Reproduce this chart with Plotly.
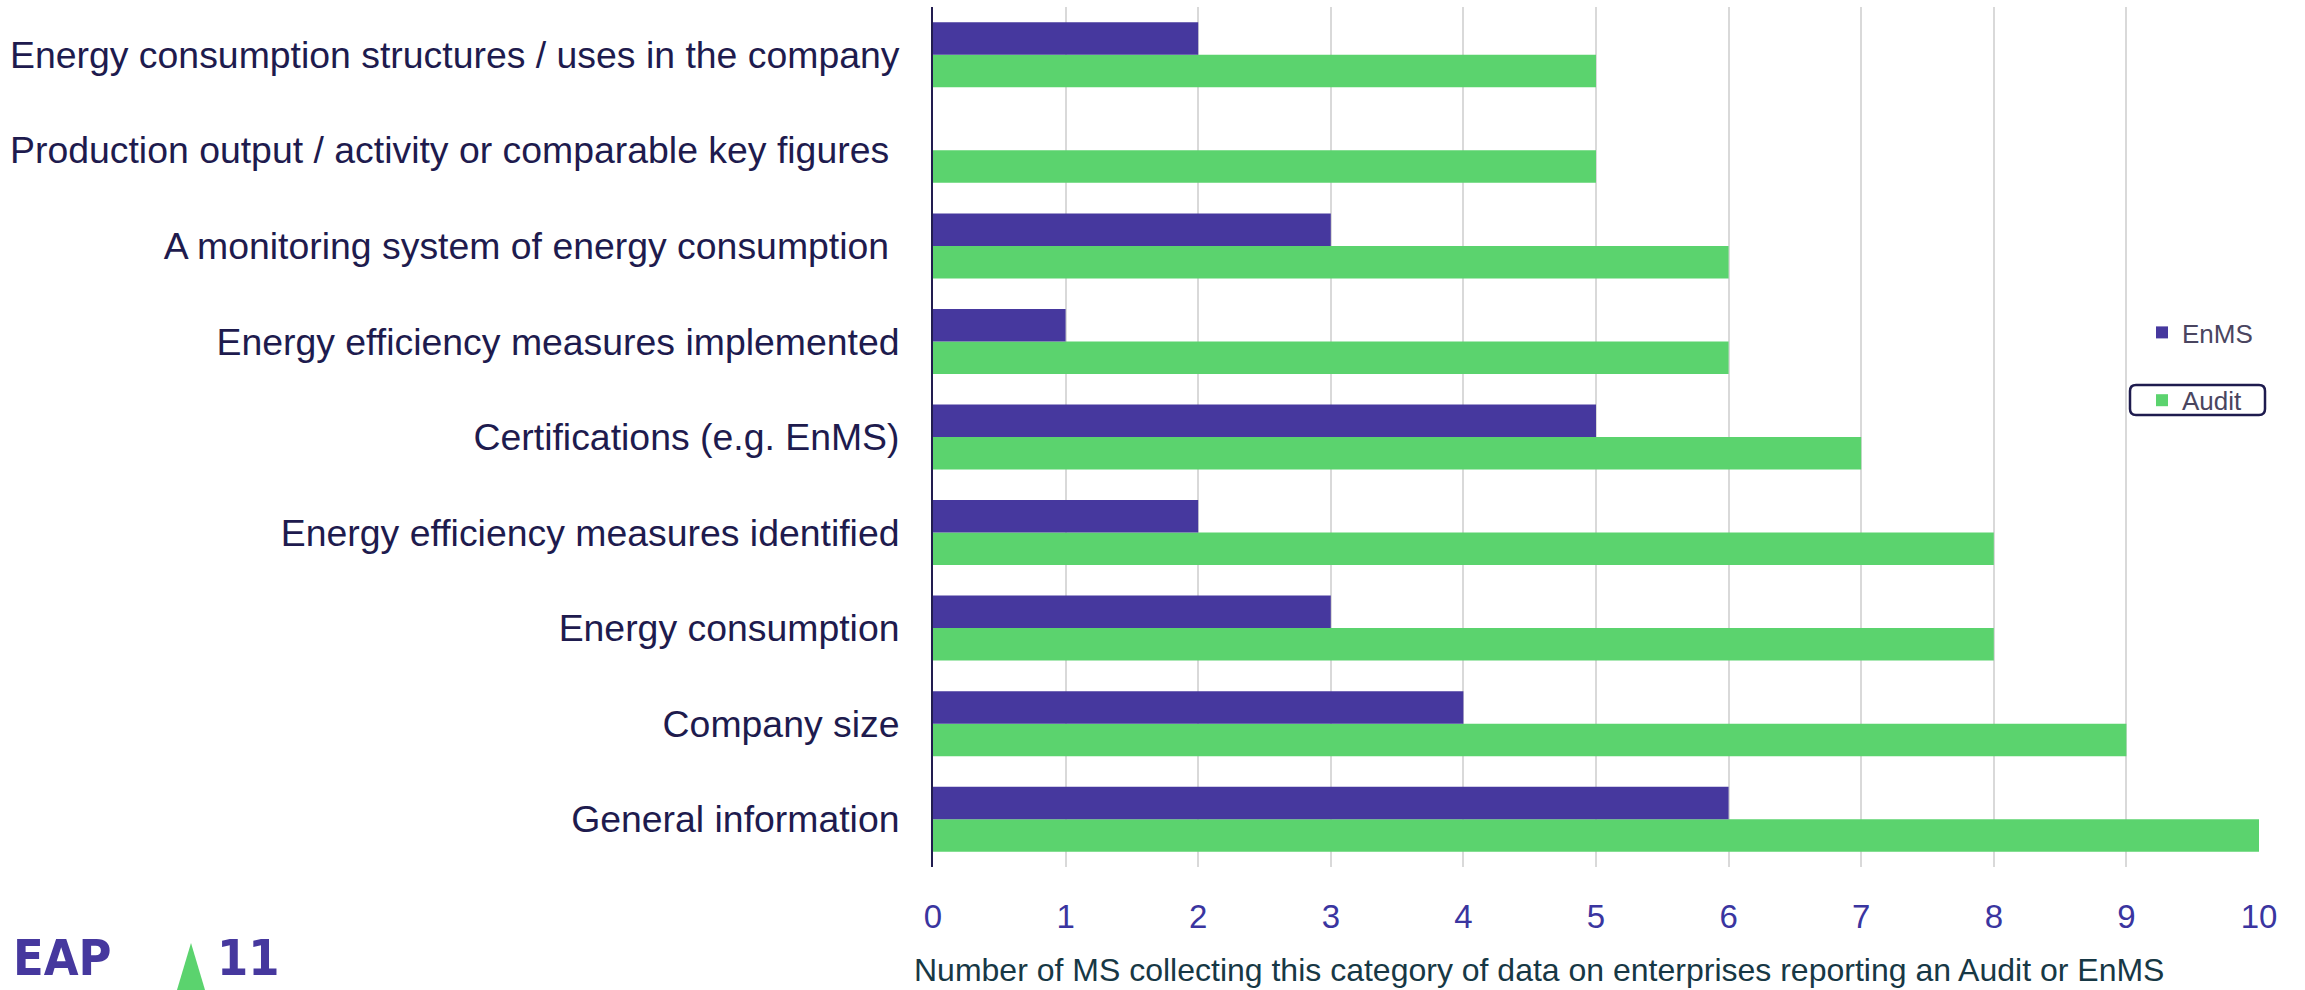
import plotly.graph_objects as go

categories = [
    "General information",
    "Company size",
    "Energy consumption",
    "Energy efficiency measures identified",
    "Certifications (e.g. EnMS)",
    "Energy efficiency measures implemented",
    "A monitoring system of energy consumption\u00a0",
    "Production output / activity or comparable key figures\u00a0",
    "Energy consumption structures / uses in the company",
]
enms = [6, 4, 3, 2, 5, 1, 3, 0, 2]
audit = [10, 9, 8, 8, 7, 6, 6, 5, 5]
x_ticks = [0, 1, 2, 3, 4, 5, 6, 7, 8, 9, 10]

W, H = 2305, 990
L, R, T, B = 933, 46, 7, 123
PW, PH = W - L - R, H - T - B

def px(x):
    return (x - L) / PW

def py(y):
    return (H - B - y) / PH

FONT = "Liberation Sans, Arial, sans-serif"
LOGO_FONT = "Liberation Sans Narrow, DejaVu Sans Condensed, sans-serif"

fig = go.Figure()
fig.add_trace(go.Bar(y=categories, x=audit, name="Audit", orientation="h",
                     marker=dict(color="#5BD36E", line=dict(width=0)),
                     legendgroup="a", legendrank=2))
fig.add_trace(go.Bar(y=categories, x=enms, name="EnMS", orientation="h",
                     marker=dict(color="#46389E", line=dict(width=0)),
                     legendgroup="b", legendrank=1))

fig.update_layout(
    width=W, height=H,
    margin=dict(l=L, r=R, t=T, b=B, autoexpand=False),
    paper_bgcolor="white", plot_bgcolor="white",
    barmode="group", bargap=0.32, bargroupgap=0,
    font=dict(family=FONT),
    showlegend=True,
    legend=dict(x=px(2142), y=py(309), xanchor="left", yanchor="top",
                traceorder="grouped", tracegroupgap=31,
                font=dict(size=26, color="#4A4560", family=FONT),
                bgcolor="rgba(0,0,0,0)", itemwidth=30),
    xaxis=dict(range=[0, 10], tickvals=x_ticks, showgrid=True,
               gridcolor="#D9D9D9", gridwidth=2, zeroline=False,
               showline=False, ticks="",
               tickfont=dict(size=33, color="#3A35A0", family=FONT),
               ticklabelstandoff=27),
    yaxis=dict(showline=True, linecolor="#221D50", linewidth=2,
               ticks="", showgrid=False,
               tickfont=dict(size=37.4, color="#1E1B4E", family=FONT),
               ticklabelstandoff=24),
)

fig.add_annotation(text="Number of MS collecting this category of data on enterprises reporting an Audit or EnMS",
                   xref="paper", yref="paper", x=px(1539), y=py(970),
                   xanchor="center", yanchor="middle", showarrow=False,
                   font=dict(size=32, color="#173845", family=FONT))

# Box around "Audit" legend item
r = 6
x0, x1, y0, y1 = 2130, 2265, 385, 415
path = (f"M {px(x0 + r)},{py(y0)} L {px(x1 - r)},{py(y0)} "
        f"Q {px(x1)},{py(y0)} {px(x1)},{py(y0 + r)} L {px(x1)},{py(y1 - r)} "
        f"Q {px(x1)},{py(y1)} {px(x1 - r)},{py(y1)} L {px(x0 + r)},{py(y1)} "
        f"Q {px(x0)},{py(y1)} {px(x0)},{py(y1 - r)} L {px(x0)},{py(y0 + r)} "
        f"Q {px(x0)},{py(y0)} {px(x0 + r)},{py(y0)} Z")
fig.add_shape(type="path", path=path, xref="paper", yref="paper",
              line=dict(color="#1E1B4E", width=2.5), fillcolor="rgba(0,0,0,0)")

# Logo
fig.add_annotation(text="<b>EAP</b>", xref="paper", yref="paper",
                   x=px(12), y=py(988), xanchor="left", yanchor="bottom",
                   showarrow=False, borderpad=0,
                   font=dict(size=50, color="#46389E", family=LOGO_FONT))
fig.add_shape(type="path", xref="paper", yref="paper",
              path=f"M {px(191)},{py(943)} L {px(208)},{py(1000)} L {px(174)},{py(1000)} Z",
              line=dict(width=0), fillcolor="#5BD36E")
fig.add_annotation(text="<b>11</b>", xref="paper", yref="paper",
                   x=px(216), y=py(988), xanchor="left", yanchor="bottom",
                   showarrow=False, borderpad=0,
                   font=dict(size=50, color="#46389E", family=LOGO_FONT))

fig.write_html("out.html")
